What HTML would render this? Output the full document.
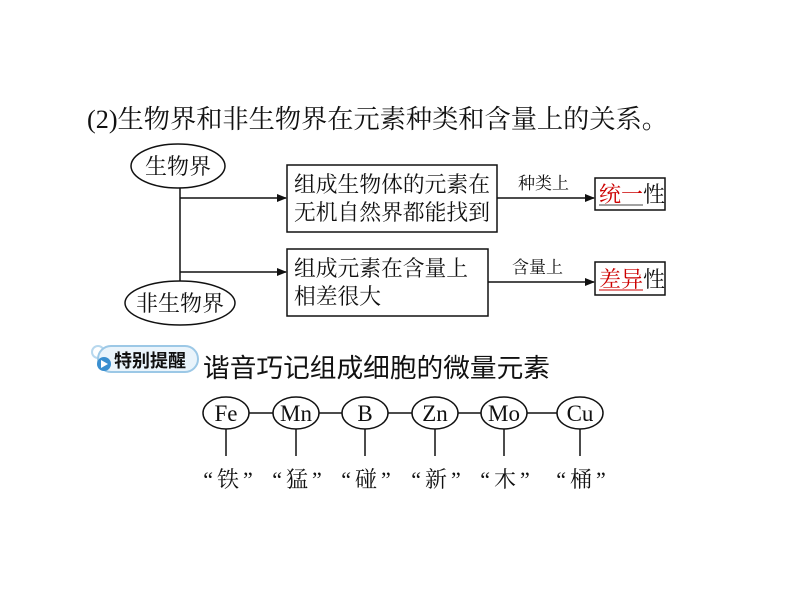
<!DOCTYPE html>
<html><head><meta charset="utf-8"><style>
body{margin:0;background:#fff}
svg{display:block}
text{font-family:"Liberation Serif","Noto Serif CJK SC","Noto Sans CJK SC",serif;fill:#111}
.s{font-family:"Liberation Sans","Noto Sans CJK SC",sans-serif}
</style></head><body>
<svg width="794" height="603" viewBox="0 0 794 603" xmlns="http://www.w3.org/2000/svg">
<defs><marker id="a" markerWidth="10" markerHeight="8" refX="9" refY="4" orient="auto" markerUnits="userSpaceOnUse"><path d="M0,0 L10,4 L0,8 Z" fill="#111"/></marker></defs>
<text x="87" y="128" font-size="26" textLength="581" lengthAdjust="spacingAndGlyphs">(2)生物界和非生物界在元素种类和含量上的关系。</text>
<g stroke="#111" stroke-width="1.5" fill="none">
<ellipse cx="178" cy="166" rx="47" ry="22"/>
<ellipse cx="180" cy="303" rx="55" ry="22"/>
<line x1="180" y1="188" x2="180" y2="281"/>
<line x1="180" y1="198" x2="286" y2="198" marker-end="url(#a)"/>
<line x1="180" y1="272" x2="286" y2="272" marker-end="url(#a)"/>
<rect x="287" y="165" width="210" height="67"/>
<rect x="287" y="249" width="201" height="67"/>
<line x1="497" y1="198" x2="594" y2="198" marker-end="url(#a)"/>
<line x1="488" y1="282" x2="594" y2="282" marker-end="url(#a)"/>
<rect x="595" y="178" width="70" height="32"/>
<rect x="595" y="262" width="70" height="33"/>
</g>
<text x="178" y="174" font-size="22" text-anchor="middle">生物界</text>
<text x="180" y="311" font-size="22" text-anchor="middle">非生物界</text>
<text x="294" y="192" font-size="22" textLength="196" lengthAdjust="spacingAndGlyphs">组成生物体的元素在</text>
<text x="294" y="220" font-size="22" textLength="196" lengthAdjust="spacingAndGlyphs">无机自然界都能找到</text>
<text x="294" y="276" font-size="22" textLength="174" lengthAdjust="spacingAndGlyphs">组成元素在含量上</text>
<text x="294" y="304" font-size="22" textLength="87" lengthAdjust="spacingAndGlyphs">相差很大</text>
<text x="518" y="189" font-size="17">种类上</text>
<text x="512" y="273" font-size="17">含量上</text>
<text x="599" y="202" font-size="22"><tspan fill="#c00">统一</tspan>性</text>
<line x1="599" y1="205" x2="643" y2="205" stroke="#444" stroke-width="1"/>
<text x="599" y="287" font-size="22"><tspan fill="#c00">差异</tspan>性</text>
<line x1="599" y1="290" x2="643" y2="290" stroke="#c00" stroke-width="1"/>
<circle cx="98" cy="352" r="6" fill="none" stroke="#b8d8ee" stroke-width="2"/>
<rect x="98" y="346" width="100" height="26" rx="13" fill="#eaf4fb" stroke="#9cc8e6" stroke-width="2"/>
<circle cx="104" cy="364" r="7" fill="#3a8fd0"/>
<path d="M101,360 L108,364 L101,368 Z" fill="#fff"/>
<text x="114" y="367" font-size="18" font-weight="bold" class="s">特别提醒</text>
<text x="203" y="377" font-size="26" class="s" textLength="347" lengthAdjust="spacingAndGlyphs">谐音巧记组成细胞的微量元素</text>
<g stroke="#111" stroke-width="1.5" fill="none">
<line x1="249" y1="413" x2="273" y2="413"/>
<line x1="319" y1="413" x2="342" y2="413"/>
<line x1="388" y1="413" x2="412" y2="413"/>
<line x1="458" y1="413" x2="481" y2="413"/>
<line x1="527" y1="413" x2="557" y2="413"/>
<ellipse cx="226" cy="413" rx="23" ry="16"/>
<ellipse cx="296" cy="413" rx="23" ry="16"/>
<ellipse cx="365" cy="413" rx="23" ry="16"/>
<ellipse cx="435" cy="413" rx="23" ry="16"/>
<ellipse cx="504" cy="413" rx="23" ry="16"/>
<ellipse cx="580" cy="413" rx="23" ry="16"/>
<line x1="226" y1="429" x2="226" y2="456"/>
<line x1="296" y1="429" x2="296" y2="456"/>
<line x1="365" y1="429" x2="365" y2="456"/>
<line x1="435" y1="429" x2="435" y2="456"/>
<line x1="504" y1="429" x2="504" y2="456"/>
<line x1="580" y1="429" x2="580" y2="456"/>
</g>
<g font-size="23" text-anchor="middle">
<text x="226" y="421">Fe</text><text x="296" y="421">Mn</text><text x="365" y="421">B</text>
<text x="435" y="421">Zn</text><text x="504" y="421">Mo</text><text x="580" y="421">Cu</text>
</g>
<g font-size="22" text-anchor="middle" letter-spacing="4">
<text x="230" y="487">“铁”</text><text x="299" y="487">“猛”</text><text x="368" y="487">“碰”</text>
<text x="438" y="487">“新”</text><text x="507" y="487">“木”</text><text x="583" y="487">“桶”</text>
</g>
</svg>
</body></html>
